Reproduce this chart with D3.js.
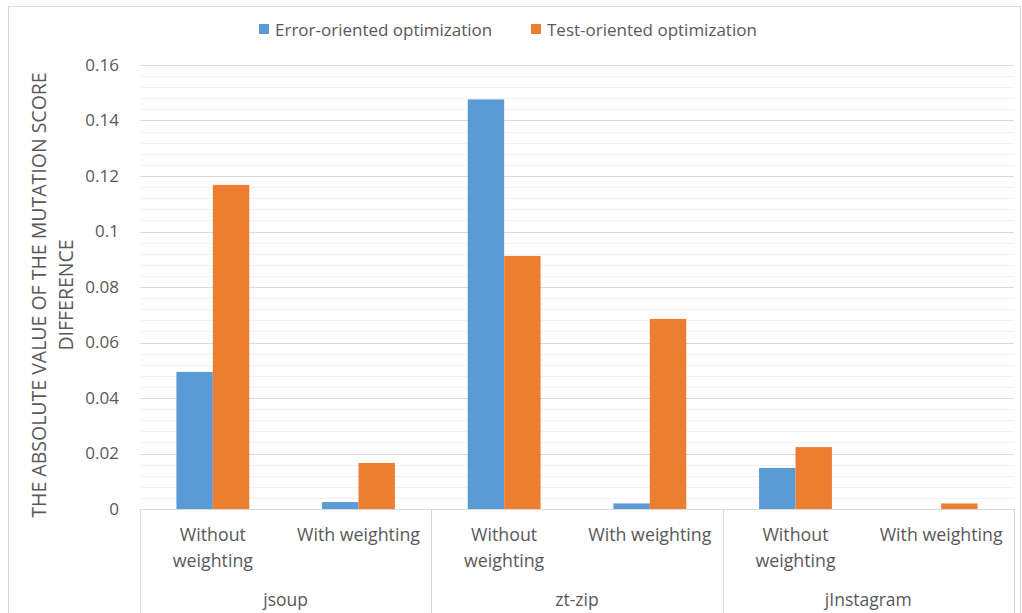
<!DOCTYPE html>
<html>
<head>
<meta charset="utf-8">
<script src="https://cdn.jsdelivr.net/npm/d3@7"></script>
<style>
  html, body { margin: 0; padding: 0; background: #fff; }
  svg { display: block; }
  text { font-family: "Open Sans", "Liberation Sans", sans-serif; fill: #595959; }
</style>
</head>
<body>
<svg id="chart" width="1022" height="613"></svg>
<script>
// Projects (outer category tier) and weighting mode (inner tier)
const projects = ["jsoup", "zt-zip", "jInstagram"];
const modes = ["Without weighting", "With weighting"];
const seriesNames = ["Error-oriented optimization", "Test-oriented optimization"];
// Values per project, in order [Without weighting, With weighting]
const errorOriented = [[0.0494, 0.0025], [0.1476, 0.0020], [0.0148, 0.0]];
const testOriented  = [[0.1168, 0.0166], [0.0912, 0.0685], [0.0223, 0.0020]];
const yTicks = [0, 0.02, 0.04, 0.06, 0.08, 0.1, 0.12, 0.14, 0.16];
const colors = ["#5b9bd5", "#ed7d31"];

const svg = d3.select("#chart");
const W = 1022, H = 613;
const plot = { left: 140, right: 1014, top: 65, bottom: 509 };

// chart frame
svg.append("rect").attr("x", 8.5).attr("y", 6.5).attr("width", 1012).attr("height", 620)
  .attr("fill", "none").attr("stroke", "#d9d9d9");

const y = d3.scaleLinear().domain([0, 0.16]).range([plot.bottom, plot.top]);

// minor gridlines
const minor = d3.range(0, 0.1600001, 0.004).filter(v => Math.abs(v / 0.02 - Math.round(v / 0.02)) > 1e-6);
svg.append("g").selectAll("line").data(minor).join("line")
  .attr("x1", plot.left).attr("x2", plot.right)
  .attr("y1", d => Math.round(y(d)) + 0.5).attr("y2", d => Math.round(y(d)) + 0.5)
  .attr("stroke", "#f2f2f2").attr("stroke-width", 1);

// major gridlines
svg.append("g").selectAll("line").data(yTicks.filter(d => d > 0)).join("line")
  .attr("x1", plot.left).attr("x2", plot.right)
  .attr("y1", d => Math.round(y(d)) + 0.5).attr("y2", d => Math.round(y(d)) + 0.5)
  .attr("stroke", "#d9d9d9").attr("stroke-width", 1);

// y tick labels
svg.append("g").selectAll("text").data(yTicks).join("text")
  .attr("x", 119).attr("y", d => y(d)).attr("dy", "0.35em")
  .attr("text-anchor", "end").attr("font-size", 17)
  .text(d => d3.format("")(d));

// outer band: projects; inner band: modes
const x0 = d3.scaleBand().domain(projects).range([plot.left, plot.right]).paddingInner(0).paddingOuter(0);
const x1 = d3.scaleBand().domain(modes).range([0, x0.bandwidth()]).paddingInner(0).paddingOuter(0);
const barW = x1.bandwidth() / 4; // bars fill half the category, gap width 200%
const xs = d3.scaleBand().domain(seriesNames).range([-barW, barW]);

const rows = [];
projects.forEach((p, pi) => {
  modes.forEach((m, mi) => {
    rows.push({ p, m, s: seriesNames[0], v: errorOriented[pi][mi], c: colors[0] });
    rows.push({ p, m, s: seriesNames[1], v: testOriented[pi][mi], c: colors[1] });
  });
});

svg.append("g").selectAll("rect").data(rows.filter(d => d.v > 0)).join("rect")
  .attr("x", d => x0(d.p) + x1(d.m) + x1.bandwidth() / 2 + xs(d.s))
  .attr("width", xs.bandwidth())
  .attr("y", d => y(d.v))
  .attr("height", d => y(0) - y(d.v))
  .attr("fill", d => d.c);

// category axis: baseline and group separators
svg.append("line").attr("x1", plot.left).attr("x2", plot.right)
  .attr("y1", plot.bottom + 0.5).attr("y2", plot.bottom + 0.5)
  .attr("stroke", "#d9d9d9");
const seps = projects.map(p => x0(p)).concat([plot.right]);
svg.append("g").selectAll("line").data(seps).join("line")
  .attr("x1", d => Math.round(d) + 0.5).attr("x2", d => Math.round(d) + 0.5)
  .attr("y1", plot.bottom).attr("y2", H)
  .attr("stroke", "#d9d9d9");

// inner labels
const inner = [];
projects.forEach(p => modes.forEach(m => inner.push({ p, m })));
const innerLines = { "Without weighting": ["Without", "weighting"], "With weighting": ["With weighting"] };
const innerG = svg.append("g").selectAll("text").data(inner).join("text")
  .attr("text-anchor", "middle").attr("font-size", 17.8)
  .attr("transform", d => `translate(${x0(d.p) + x1(d.m) + x1.bandwidth() / 2},0)`);
innerG.selectAll("tspan").data(d => innerLines[d.m]).join("tspan")
  .attr("x", 0).attr("y", (d, i) => 541 + i * 26).text(d => d);

// outer labels
svg.append("g").selectAll("text").data(projects).join("text")
  .attr("x", d => x0(d) + x0.bandwidth() / 2).attr("y", 606)
  .attr("text-anchor", "middle").attr("font-size", 17.5).text(d => d);

// y-axis title
const yt = svg.append("text").attr("text-anchor", "middle").attr("font-size", 19.5)
  .attr("transform", `translate(46,295) rotate(-90)`);
yt.append("tspan").attr("x", 0).attr("y", 0).text("THE ABSOLUTE VALUE OF THE MUTATION SCORE");
yt.append("tspan").attr("x", 0).attr("y", 27).text("DIFFERENCE");

// legend
const legend = svg.append("g");
const legendX = [259, 531];
seriesNames.forEach((s, i) => {
  legend.append("rect").attr("x", legendX[i]).attr("y", 24).attr("width", 10).attr("height", 10).attr("fill", colors[i]);
  legend.append("text").attr("x", legendX[i] + 16).attr("y", 35.5).attr("font-size", 17).text(s);
});
</script>
</body>
</html>
